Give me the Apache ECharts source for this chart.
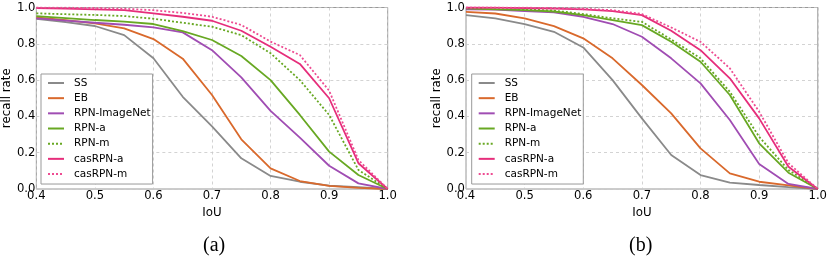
<!DOCTYPE html>
<html><head><meta charset="utf-8">
<script src="https://cdn.jsdelivr.net/npm/echarts@6/dist/echarts.min.js"></script>
<style>html,body{margin:0;padding:0;background:#fff}#c{width:830px;height:272px}</style>
</head><body><div id="c"></div>
<script>
const iou = [0.4,0.45,0.5,0.55,0.6,0.65,0.7,0.75,0.8,0.85,0.9,0.95,1.0];
const seriesNames = ['SS','EB','RPN-ImageNet','RPN-a','RPN-m','casRPN-a','casRPN-m'];
const xTicks = ['0.4','0.5','0.6','0.7','0.8','0.9','1.0'];
const yTicks = ['0.0','0.2','0.4','0.6','0.8','1.0'];
const panelLabels = ['(a)','(b)'];

// panel (a)
const ssA   = [0.937,0.92,0.898,0.848,0.72,0.508,0.345,0.169,0.072,0.04,0.018,0.01,0];
const ebA   = [0.946,0.93,0.913,0.885,0.826,0.718,0.518,0.274,0.114,0.044,0.017,0.006,0];
const imnA  = [0.94,0.928,0.916,0.905,0.891,0.863,0.765,0.615,0.43,0.283,0.128,0.031,0];
const rpnaA = [0.953,0.942,0.931,0.922,0.909,0.87,0.821,0.733,0.6,0.408,0.206,0.077,0];
const rpnmA = [0.968,0.963,0.959,0.953,0.938,0.916,0.894,0.848,0.748,0.6,0.408,0.105,0];
const casaA = [0.997,0.994,0.99,0.985,0.968,0.949,0.927,0.872,0.784,0.689,0.5,0.142,0];
const casmA = [1.0,0.999,0.997,0.993,0.985,0.97,0.949,0.904,0.812,0.738,0.542,0.16,0];

// panel (b)
const ssB   = [0.958,0.94,0.909,0.866,0.78,0.6,0.389,0.187,0.077,0.035,0.022,0.01,0];
const ebB   = [0.976,0.967,0.94,0.897,0.83,0.72,0.573,0.417,0.224,0.086,0.04,0.02,0];
const imnB  = [0.99,0.988,0.98,0.973,0.949,0.909,0.839,0.72,0.582,0.38,0.138,0.028,0];
const rpnaB = [0.995,0.99,0.985,0.978,0.958,0.931,0.903,0.811,0.701,0.518,0.252,0.09,0];
const rpnmB = [0.997,0.994,0.99,0.983,0.964,0.94,0.921,0.824,0.72,0.536,0.288,0.105,0];
const casaB = [1.0,0.999,0.997,0.994,0.99,0.98,0.958,0.872,0.765,0.61,0.389,0.123,0];
const casmB = [1.0,1.0,0.999,0.997,0.993,0.985,0.964,0.89,0.811,0.665,0.426,0.142,0];

const colors = ['#8a8a8a','#d9692c','#a04db3','#68a823','#68a823','#e62e7b','#ee4c92'];
const dotted = [false,false,false,false,true,false,true];
const panels = [[ssA,ebA,imnA,rpnaA,rpnmA,casaA,casmA],[ssB,ebB,imnB,rpnaB,rpnmB,casaB,casmB]];

const grids = [
  {left:35.7, top:7.5, width:352, height:181.5},
  {left:466, top:7.5, width:352.8, height:181.5}
];
const font = 'DejaVu Sans';
const option = {
  animation:false,
  backgroundColor:'#fff',
  grid: grids.map(g=>Object.assign({show:true,borderColor:'#999',borderWidth:1,backgroundColor:'transparent'},g)),
  xAxis: grids.map((g,i)=>({
    type:'value', gridIndex:i, min:0.4, max:1.0, interval:0.1,
    name:'IoU', nameLocation:'middle', nameGap:14,
    nameTextStyle:{fontFamily:font,fontSize:11.8,color:'#000'},
    axisLine:{show:false}, axisTick:{show:false},
    axisLabel:{fontFamily:font,fontSize:11.6,color:'#000',margin:1,
      formatter:v=>xTicks[Math.round((v-0.4)*10)]},
    splitLine:{show:true,lineStyle:{color:'#c8c8c8',type:[3,3],width:0.8}}
  })),
  yAxis: grids.map((g,i)=>({
    type:'value', gridIndex:i, min:0, max:1, interval:0.2,
    name:'recall rate', nameLocation:'middle', nameGap:22,
    nameTextStyle:{fontFamily:font,fontSize:11.8,color:'#000'},
    axisLine:{show:false}, axisTick:{show:false},
    axisLabel:{fontFamily:font,fontSize:11.6,color:'#000',margin:1,
      formatter:v=>yTicks[Math.round(v*5)]},
    splitLine:{show:true,lineStyle:{color:'#c8c8c8',type:[3,3],width:0.8}}
  })),
  legend: grids.map((g,i)=>({
    data:seriesNames, orient:'vertical',
    left: i===0 ? 41 : 471.7, top:74,
    padding:[3,2,4,6], itemGap:3.17, itemWidth:16, itemHeight:12,
    backgroundColor:'#fff', borderColor:'#999', borderWidth:1,
    itemStyle:{opacity:0},
    textStyle:{fontFamily:font,fontSize:10.5,color:'#000',padding:[0,0,0,5],lineHeight:12},
    selectedMode:false
  })),
  graphic: panelLabels.map((t,i)=>({
    type:'text', left:(i===0?215:641)-12, top:236,
    style:{text:t,fontFamily:'Liberation Serif',fontSize:20,fill:'#000'}
  })),
  series: []
};
panels.forEach((arrs,pi)=>{
  arrs.forEach((arr,si)=>{
    option.series.push({
      type:'line', name:seriesNames[si], xAxisIndex:pi, yAxisIndex:pi,
      data: iou.map((x,k)=>[x,arr[k]]),
      symbol:'none', clip:true,
      lineStyle:{color:colors[si],width:1.8,type:dotted[si]?[2,2]:'solid'},
      itemStyle:{color:colors[si]}
    });
  });
});
const chart = echarts.init(document.getElementById('c'),null,{renderer:'canvas'});
chart.setOption(option);
</script></body></html>
